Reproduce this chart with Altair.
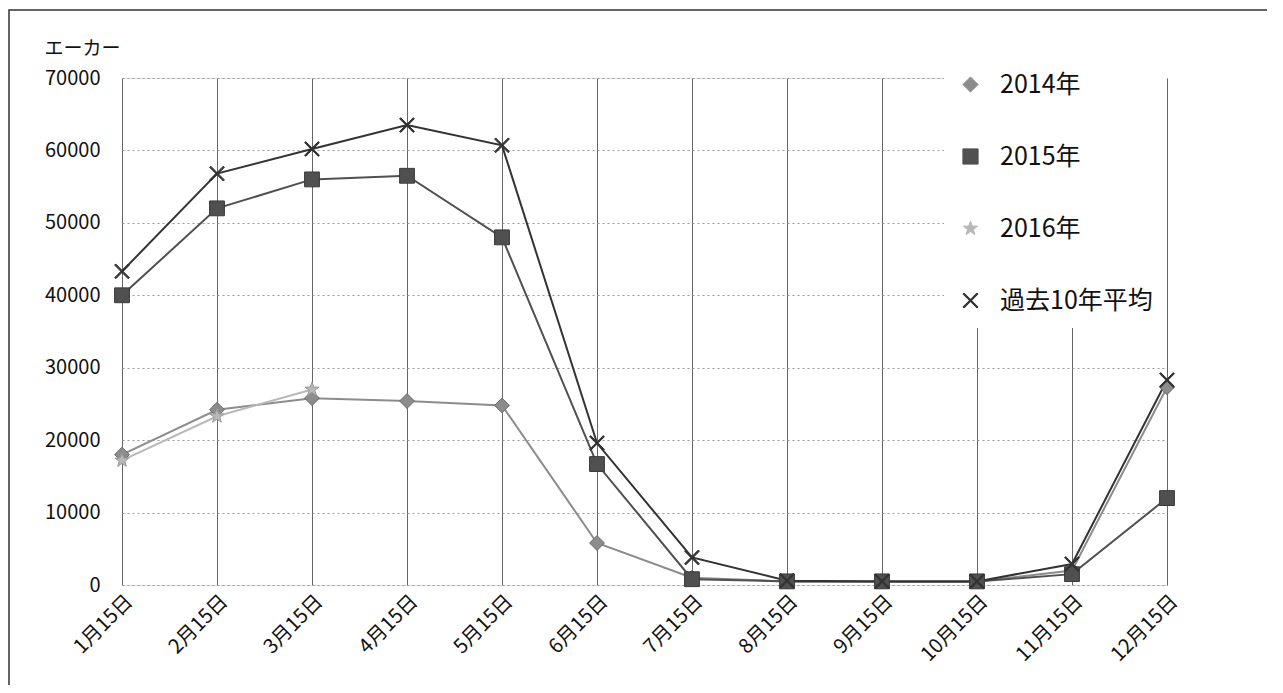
import altair as alt
import pandas as pd

dates = ["1月15日", "2月15日", "3月15日", "4月15日", "5月15日", "6月15日",
         "7月15日", "8月15日", "9月15日", "10月15日", "11月15日", "12月15日"]
series_names = ["2014年", "2015年", "2016年", "過去10年平均"]
v2014 = [18000, 24200, 25800, 25400, 24800, 5800, 1000, 500, 500, 500, 2000, 27300]
v2015 = [40000, 52000, 56000, 56500, 48000, 16700, 800, 500, 500, 500, 1500, 12000]
v2016 = [17200, 23300, 27000, None, None, None, None, None, None, None, None, None]
vavg = [43300, 56800, 60200, 63500, 60700, 19600, 3800, 600, 500, 500, 2900, 28300]
y_ticks = [0, 10000, 20000, 30000, 40000, 50000, 60000, 70000]

rows = []
for name, vals in zip(series_names, [v2014, v2015, v2016, vavg]):
    for d, v in zip(dates, vals):
        if v is not None:
            rows.append({"date": d, "series": name, "value": v})
df = pd.DataFrame(rows)

line_colors = ["#8c8c8c", "#505050", "#b8b8b8", "#333333"]
edge_colors = ["#6a6a6a", "#3a3a3a", "#9a9a9a", "#333333"]
star = ("M0,-1L0.235,-0.324L0.951,-0.309L0.380,0.124L0.588,0.809L0,0.4"
        "L-0.588,0.809L-0.380,0.124L-0.951,-0.309L-0.235,-0.324Z")
xshape = "M-1,-0.85L-0.85,-1L1,0.85L0.85,1Z M1,-0.85L-0.85,1L-1,0.85L0.85,-1Z"
shapes = ["diamond", "square", star, xshape]

W, H = 1045, 507

x_enc = alt.X("date:N", sort=dates, title=None,
              scale=alt.Scale(padding=0),
              axis=alt.Axis(labelAngle=-45, labelAlign="right", labelBaseline="top",
                            labelFontSize=20, labelPadding=6, ticks=False, domain=False,
                            grid=True, gridColor="#666666", gridWidth=1,
                            labelColor="#111111", labelFont="Noto Sans CJK JP"))
y_enc = alt.Y("value:Q", title="エーカー",
              scale=alt.Scale(domain=[0, 70000], nice=False),
              axis=alt.Axis(values=y_ticks, format="d", labelFontSize=20, labelPadding=22,
                            ticks=False, domain=False, grid=True,
                            gridColor="#999999", gridDash=[2, 3], gridWidth=1,
                            labelColor="#111111", labelFont="Noto Sans CJK JP",
                            titleAngle=0, titleX=-78, titleY=-30, titleAlign="left",
                            titleBaseline="middle", titleFontSize=19,
                            titleFontWeight="normal", titleColor="#111111",
                            titleFont="Noto Sans CJK JP"))

color_scale = alt.Scale(domain=series_names, range=line_colors)
legend = alt.Legend(title=None, orient="none", legendX=822, legendY=-20,
                    labelFontSize=25, labelFont="Noto Sans CJK JP", labelColor="#111111",
                    rowPadding=46, symbolSize=230, labelOffset=17, padding=14,
                    fillColor="white", symbolStrokeWidth=1)

lines = alt.Chart(df).mark_line(strokeWidth=2).encode(
    x=x_enc, y=y_enc,
    color=alt.Color("series:N", scale=color_scale, legend=legend),
    detail="series:N",
)
points = alt.Chart(df).mark_point(filled=True, size=220, strokeWidth=1, opacity=1).encode(
    x=x_enc, y=y_enc,
    color=alt.Color("series:N", scale=color_scale, legend=legend),
    shape=alt.Shape("series:N", scale=alt.Scale(domain=series_names, range=shapes), legend=legend),
    stroke=alt.Stroke("series:N", scale=alt.Scale(domain=series_names, range=edge_colors), legend=None),
)

frame = alt.Chart(pd.DataFrame({"a": [0]})).mark_rect(
    fill=None, stroke="#333333", strokeWidth=1.5
).encode(x=alt.value(-113), x2=alt.value(1200), y=alt.value(-68), y2=alt.value(640))

chart = alt.layer(frame, lines, points).properties(
    width=W, height=H,
    autosize=alt.AutoSizeParams(type="none"),
    padding={"left": 114, "top": 70, "right": 100, "bottom": 100},
).configure_view(stroke=None).configure(background="white")

chart.save("out.html", embed_options={"renderer": "svg", "actions": False})
